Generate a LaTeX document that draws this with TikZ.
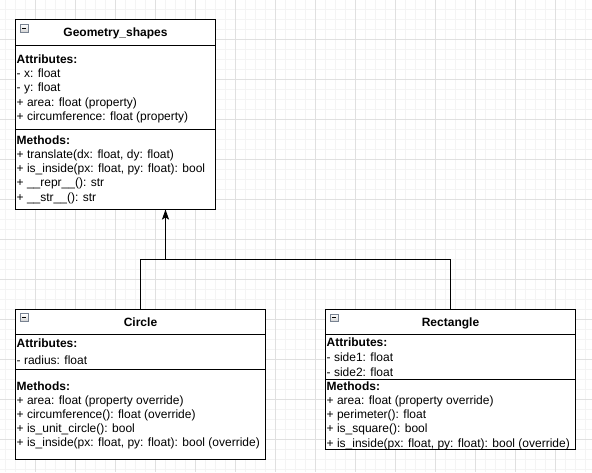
\documentclass[tikz,border=0pt]{standalone}
\usepackage{fontspec}
\setmainfont{Liberation Sans}
\usetikzlibrary{arrows.meta}
\definecolor{minorgrid}{RGB}{244,244,244}
\definecolor{majorgrid}{RGB}{224,224,224}
\definecolor{iconedge}{RGB}{120,130,145}
\tikzset{
  umlbox/.style={draw=black, line width=1pt, fill=white, inner sep=0pt, outer sep=0pt, anchor=north west},
  ln/.style={anchor=base west, inner sep=0pt, font=\fontsize{12}{14}\selectfont},
  hd/.style={anchor=base west, inner sep=0pt, font=\bfseries\fontsize{12}{14}\selectfont},
  ttl/.style={anchor=base, inner sep=0pt, font=\bfseries\fontsize{12}{14}\selectfont},
  sep/.style={draw=black, line width=1pt},
  icon/.style={draw=iconedge, line width=0.8pt, top color=white, bottom color=gray!35, minimum size=7.5pt, inner sep=0pt,
    path picture={\draw[black, line width=1.3pt] ([xshift=1.6pt]path picture bounding box.west) -- ([xshift=-1.6pt]path picture bounding box.east);}},
  minor/.style={draw=minorgrid, line width=1pt},
  major/.style={draw=majorgrid, line width=1pt},
  inherit/.style={draw=black, line width=1pt, -{Stealth[length=10pt, width=7pt, inset=2pt]}},
  link/.style={draw=black, line width=1pt}
}
\begin{document}
\begin{tikzpicture}[x=1pt, y=-1pt]
\useasboundingbox (0,0) rectangle (592,472);
\fill[white] (0,0) rectangle (592,472);
% grid
\foreach \x in {5.5,15.5,...,595} \draw[minor] (\x,0) -- (\x,472);
\foreach \y in {9.5,19.5,...,475} \draw[minor] (0,\y) -- (592,\y);
\foreach \x in {35.5,75.5,...,595} \draw[major] (\x,0) -- (\x,472);
\foreach \y in {39.5,79.5,...,475} \draw[major] (0,\y) -- (592,\y);

% ---------- Geometry_shapes ----------
\node[umlbox, minimum width=200pt, minimum height=190pt] (geo) at (15.5,19.5) {};
\draw[sep] (geo.west |- 0,45.5) -- (geo.east |- 0,45.5);
\draw[sep] (geo.west |- 0,129.5) -- (geo.east |- 0,129.5);
\node[icon] (geoicon) at (24.3,28.3) {};
\node[ttl] (geotitle) at (115.5,36) {Geometry\_shapes};
\node[hd] (geoa) at (16.5,63.3) {Attributes:};
\node[ln] (geoa1) at (16.5,77.5) {- x: float};
\node[ln] (geoa2) at (16.5,91.8) {- y: float};
\node[ln] (geoa3) at (16.5,106) {+ area: float (property)};
\node[ln] (geoa4) at (16.5,120.3) {+ circumference: float (property)};
\node[hd] (geom) at (16.5,144) {Methods:};
\node[ln] (geom1) at (16.5,158.3) {+ translate(dx: float, dy: float)};
\node[ln] (geom2) at (16.5,172.5) {+ is\_inside(px: float, py: float): bool};
\node[ln] (geom3) at (16.5,186.8) {+ \_\_repr\_\_(): str};
\node[ln] (geom4) at (16.5,201) {+ \_\_str\_\_(): str};

% ---------- Circle ----------
\node[umlbox, minimum width=250pt, minimum height=150pt] (circ) at (15.5,309.5) {};
\draw[sep] (circ.west |- 0,334.5) -- (circ.east |- 0,334.5);
\draw[sep] (circ.west |- 0,369.5) -- (circ.east |- 0,369.5);
\node[icon] (circicon) at (24.3,317.6) {};
\node[ttl] (circtitle) at (140.5,326.7) {Circle};
\node[hd] (circa) at (16.5,347.7) {Attributes:};
\node[ln] (circa1) at (16.5,364) {- radius: float};
\node[hd] (circm) at (16.5,390) {Methods:};
\node[ln] (circm1) at (16.5,404.2) {+ area: float (property override)};
\node[ln] (circm2) at (16.5,418.4) {+ circumference(): float (override)};
\node[ln] (circm3) at (16.5,432.6) {+ is\_unit\_circle(): bool};
\node[ln] (circm4) at (16.5,446.8) {+ is\_inside(px: float, py: float): bool (override)};

% ---------- Rectangle ----------
\node[umlbox, minimum width=250pt, minimum height=140pt] (rect) at (325.5,309.5) {};
\draw[sep] (rect.west |- 0,334.5) -- (rect.east |- 0,334.5);
\draw[sep] (rect.west |- 0,379.5) -- (rect.east |- 0,379.5);
\node[icon] (recticon) at (334.3,317.8) {};
\node[ttl] (recttitle) at (450.5,326.7) {Rectangle};
\node[hd] (recta) at (326.5,346.7) {Attributes:};
\node[ln] (recta1) at (326.5,361.3) {- side1: float};
\node[ln] (recta2) at (326.5,376) {- side2: float};
\node[hd] (rectm) at (326.5,390) {Methods:};
\node[ln] (rectm1) at (326.5,404.4) {+ area: float (property override)};
\node[ln] (rectm2) at (326.5,418.6) {+ perimeter(): float};
\node[ln] (rectm3) at (326.5,432.8) {+ is\_square(): bool};
\node[ln] (rectm4) at (326.5,447) {+ is\_inside(px: float, py: float): bool (override)};

% ---------- inheritance connectors ----------
\coordinate (junction) at (165.5,259.5);
\draw[link] (circ.north) |- (junction -| rect.north) -- (rect.north);
\draw[inherit] (junction) -- (geo.south -| junction);
\end{tikzpicture}
\end{document}
